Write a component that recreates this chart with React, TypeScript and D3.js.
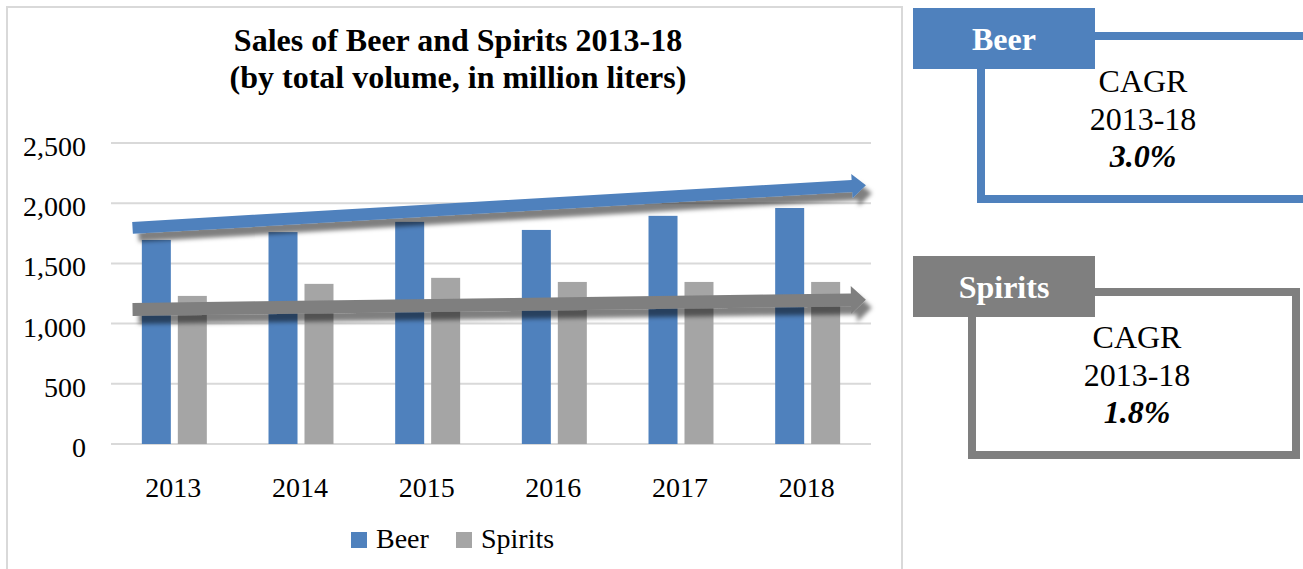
import React, { useRef, useEffect } from 'react';
import * as d3 from 'd3';

// Data (million liters)
const years = ['2013', '2014', '2015', '2016', '2017', '2018'];
const beer = [1695, 1760, 1845, 1778, 1895, 1960];
const spirits = [1230, 1330, 1380, 1346, 1346, 1346];
const seriesNames = ['Beer', 'Spirits'];
const yTicks = [0, 500, 1000, 1500, 2000, 2500];

// Trend arrows: [start value, end value] and [start, end] in category-index units
const beerTrend = [1795, 2150];
const spiritsTrend = [1117, 1198];
const trendIndex = [-0.33, 5.46];

// CAGR call-outs
const cagrLabel = ['CAGR', '2013-18'];
const cagrValues = ['3.0%', '1.8%'];

const FONT = '"Liberation Serif", "Times New Roman", serif';
const BLUE = '#4f81bd';
const GREY_BAR = '#a5a5a5';
const GREY_DARK = '#7f7f7f';

const App = () => {
  const svgRef = useRef<SVGSVGElement>(null);

  useEffect(() => {
    if (!svgRef.current) return;
    const svg = d3.select(svgRef.current);
    svg.selectAll('*').remove();

    const width = 1303;
    const height = 569;
    svg.attr('width', width).attr('height', height).style('background', '#fff');

    const defs = svg.append('defs');
    defs.append('filter')
      .attr('id', 'shadow')
      .attr('x', '-10%').attr('y', '-50%').attr('width', '120%').attr('height', '250%')
      .append('feDropShadow')
      .attr('dx', 6).attr('dy', 8).attr('stdDeviation', 2)
      .attr('flood-color', '#000').attr('flood-opacity', 0.5);

    // chart frame
    svg.append('rect')
      .attr('x', 7).attr('y', 7).attr('width', 895).attr('height', 600)
      .attr('fill', 'none').attr('stroke', '#d9d9d9').attr('stroke-width', 2);

    // title
    const title = svg.append('text')
      .attr('text-anchor', 'middle')
      .attr('font-family', FONT).attr('font-weight', 'bold').attr('font-size', 32)
      .attr('fill', '#000');
    title.append('tspan').attr('x', 458).attr('y', 51).text('Sales of Beer and Spirits 2013-18');
    title.append('tspan').attr('x', 458).attr('y', 88).text('(by total volume, in million liters)');

    // scales
    const x0 = d3.scaleBand().domain(years).range([111, 871]).padding(0);
    const groupW = x0.bandwidth() * 0.513;
    const x1 = d3.scaleBand()
      .domain(seriesNames)
      .range([(x0.bandwidth() - groupW) / 2, (x0.bandwidth() + groupW) / 2])
      .paddingInner(0.194);
    const y = d3.scaleLinear().domain([0, 2500]).range([444, 143]);
    const xi = d3.scaleLinear().domain([-0.5, years.length - 0.5]).range([111, 871]);

    // gridlines
    svg.append('g')
      .selectAll('line')
      .data(yTicks)
      .enter()
      .append('line')
      .attr('x1', 111).attr('x2', 871)
      .attr('y1', d => y(d)).attr('y2', d => y(d))
      .attr('stroke', '#d9d9d9').attr('stroke-width', 2);

    // y labels
    svg.append('g')
      .selectAll('text')
      .data(yTicks)
      .enter()
      .append('text')
      .attr('x', 86)
      .attr('y', d => y(d) + 13)
      .attr('text-anchor', 'end')
      .attr('font-family', FONT).attr('font-size', 28).attr('fill', '#000')
      .text(d => d3.format(',')(d));

    // x labels
    svg.append('g')
      .selectAll('text')
      .data(years)
      .enter()
      .append('text')
      .attr('x', d => x0(d)! + x0.bandwidth() / 2 - 1)
      .attr('y', 497)
      .attr('text-anchor', 'middle')
      .attr('font-family', FONT).attr('font-size', 28).attr('fill', '#000')
      .text(d => d);

    // bars
    const series = [
      { name: 'Beer', values: beer, color: BLUE },
      { name: 'Spirits', values: spirits, color: GREY_BAR },
    ];
    series.forEach(s => {
      svg.append('g')
        .selectAll('rect')
        .data(s.values)
        .enter()
        .append('rect')
        .attr('x', (d, i) => x0(years[i])! + x1(s.name)!)
        .attr('width', x1.bandwidth())
        .attr('y', d => y(d))
        .attr('height', d => y(0) - y(d))
        .attr('fill', s.color);
    });

    // trend arrows
    const arrowPath = (sx: number, sy: number, tx: number, ty: number, t: number, L: number, h: number) => {
      const dx = tx - sx, dy = ty - sy;
      const len = Math.hypot(dx, dy);
      const ux = dx / len, uy = dy / len;
      const nx = -uy, ny = ux;
      const bx = tx - ux * L, by = ty - uy * L;
      const pts: [number, number][] = [
        [sx + nx * t / 2, sy + ny * t / 2],
        [bx + nx * t / 2, by + ny * t / 2],
        [bx + nx * h, by + ny * h],
        [tx, ty],
        [bx - nx * h, by - ny * h],
        [bx - nx * t / 2, by - ny * t / 2],
        [sx - nx * t / 2, sy - ny * t / 2],
      ];
      return d3.line()(pts)! + 'Z';
    };
    const trends = [
      { vals: beerTrend, color: BLUE, t: 12, L: 14, h: 12 },
      { vals: spiritsTrend, color: GREY_DARK, t: 13, L: 15, h: 14 },
    ];
    trends.forEach(tr => {
      svg.append('path')
        .attr('d', arrowPath(xi(trendIndex[0]), y(tr.vals[0]), xi(trendIndex[1]), y(tr.vals[1]), tr.t, tr.L, tr.h))
        .attr('fill', tr.color)
        .attr('filter', 'url(#shadow)');
    });

    // legend
    const legend = svg.append('g');
    const legendX = [351, 456];
    seriesNames.forEach((name, i) => {
      legend.append('rect')
        .attr('x', legendX[i]).attr('y', 532).attr('width', 16).attr('height', 16)
        .attr('fill', i === 0 ? BLUE : GREY_BAR);
      legend.append('text')
        .attr('x', legendX[i] + 25).attr('y', 548)
        .attr('font-family', FONT).attr('font-size', 28).attr('fill', '#000')
        .text(name);
    });

    // CAGR boxes
    const boxes = [
      { name: 'Beer', value: cagrValues[0], color: BLUE, ox: 981, oy: 36, ow: 400, oh: 163, hy: 8, tx: 1143, ty: 92 },
      { name: 'Spirits', value: cagrValues[1], color: GREY_DARK, ox: 972, oy: 292, ow: 324, oh: 163, hy: 256, tx: 1137, ty: 348 },
    ];
    boxes.forEach(b => {
      const g = svg.append('g');
      g.append('rect')
        .attr('x', b.ox).attr('y', b.oy).attr('width', b.ow).attr('height', b.oh)
        .attr('fill', '#fff').attr('stroke', b.color).attr('stroke-width', 8);
      g.append('rect')
        .attr('x', 913).attr('y', b.hy).attr('width', 182).attr('height', 61)
        .attr('fill', b.color);
      g.append('text')
        .attr('x', 1004).attr('y', b.hy + 42)
        .attr('text-anchor', 'middle')
        .attr('font-family', FONT).attr('font-weight', 'bold').attr('font-size', 32)
        .attr('fill', '#fff')
        .text(b.name);
      const txt = g.append('text')
        .attr('text-anchor', 'middle')
        .attr('font-family', FONT).attr('font-size', 32).attr('fill', '#000');
      txt.append('tspan').attr('x', b.tx).attr('y', b.ty).text(cagrLabel[0]);
      txt.append('tspan').attr('x', b.tx).attr('y', b.ty + 38).text(cagrLabel[1]);
      txt.append('tspan').attr('x', b.tx).attr('y', b.ty + 75)
        .attr('font-weight', 'bold').attr('font-style', 'italic')
        .text(b.value);
    });
  }, []);

  return (
    <div style={{ position: 'absolute', left: 0, top: 0 }}>
      <svg ref={svgRef} style={{ display: 'block' }}></svg>
    </div>
  );
};

export default App;
